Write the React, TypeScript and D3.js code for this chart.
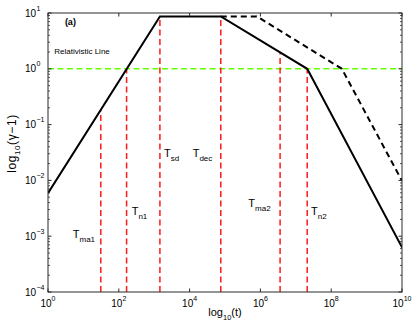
import * as d3 from 'd3'

const W = 415
const H = 330
const margin = { top: 13, right: 13, bottom: 38, left: 48 }
const FONT = 'Liberation Sans, Arial, Helvetica, sans-serif'

// solid curve (t, gamma-1)
const solidT = [1, 1450, 7.6e4, 2.1e7, 1e10]
const solidG = [0.0059, 8.7, 8.7, 1, 6.3e-4]

// dashed curve
const dashT = [7.6e4, 7.9e5, 2.0e8, 1e10]
const dashG = [8.7, 8.7, 1, 0.0098]

// vertical time markers
const markNames = ['ma1', 'n1', 'sd', 'dec', 'ma2', 'n2']
const markT = [31, 166, 1450, 7.6e4, 3.6e6, 2.1e7]
const labelT = [5, 231, 1890, 1.22e4, 4.55e5, 2.69e7]
const labelG = [9.3e-4, 2.4e-3, 0.0268, 0.0268, 3.3e-3, 2.4e-3]

const relLevel = 1
const xTickExp = [0, 2, 4, 6, 8, 10]
const yTickExp = [-4, -3, -2, -1, 0, 1]

function solidAt(t: number) {
  const lt = Math.log10(t)
  for (let i = 0; i < solidT.length - 1; i++) {
    const a = Math.log10(solidT[i])
    const b = Math.log10(solidT[i + 1])
    if (lt >= a && lt <= b) {
      const f = (lt - a) / (b - a)
      return 10 ** (Math.log10(solidG[i]) * (1 - f) + Math.log10(solidG[i + 1]) * f)
    }
  }
  return solidG[solidG.length - 1]
}

const expText = (e: number) => (e < 0 ? '\u2212' + Math.abs(e) : String(e))

export default function App() {
  const x = d3.scaleLog().domain([1, 1e10]).range([margin.left, W - margin.right])
  const y = d3.scaleLog().domain([1e-4, 10]).range([H - margin.bottom, margin.top])
  const [xa, xb] = x.range()
  const [yb, ya] = y.range()

  const line = d3.line<[number, number]>()
    .x(d => x(d[0]))
    .y(d => y(d[1]))

  const solidPts = solidT.map((t, i) => [t, solidG[i]] as [number, number])
  const dashPts = dashT.map((t, i) => [t, dashG[i]] as [number, number])

  const minorY: number[] = []
  for (let e = -4; e < 1; e++) {
    for (let k = 2; k <= 9; k++) minorY.push(k * 10 ** e)
  }

  const tickMajor = 3.5
  const tickMinor = 2
  const axisColor = '#2b2b2b'

  return (
    <svg width={W} height={H} style={{ position: 'absolute', left: 0, top: 0, background: '#fff' }}
      fontFamily={FONT}>
      <defs>
        <clipPath id="plot">
          <rect x={xa} y={ya} width={xb - xa} height={yb - ya} />
        </clipPath>
      </defs>
      <rect x={0} y={0} width={W} height={H} fill="#fff" />

      <g clipPath="url(#plot)">
        {/* relativistic line */}
        <line x1={xa} x2={xb} y1={y(relLevel)} y2={y(relLevel)}
          stroke="#66ff00" strokeWidth={1.6} strokeDasharray="6,3.5" />

        {/* time markers */}
        {markT.map((t, i) => (
          <line key={i} x1={x(t)} x2={x(t)} y1={yb} y2={y(solidAt(t))}
            stroke="#ff1a1a" strokeWidth={1.5} strokeDasharray="6,3.5" />
        ))}

        <path d={line(dashPts) || ''} fill="none" stroke="#000" strokeWidth={2}
          strokeDasharray="6,4" />
        <path d={line(solidPts) || ''} fill="none" stroke="#000" strokeWidth={2}
          strokeLinejoin="miter" />
      </g>

      {/* frame */}
      <rect x={xa} y={ya} width={xb - xa} height={yb - ya} fill="none" stroke={axisColor} strokeWidth={1} />

      {/* x ticks */}
      {xTickExp.map(e => {
        const px = x(10 ** e)
        return (
          <g key={e}>
            <line x1={px} x2={px} y1={yb} y2={yb - tickMajor} stroke={axisColor} />
            <line x1={px} x2={px} y1={ya} y2={ya + tickMajor} stroke={axisColor} />
            <text x={px} y={yb + 15} textAnchor="middle" fontSize={10} fill="#000">
              10<tspan dy={-6} fontSize={7}>{expText(e)}</tspan>
            </text>
          </g>
        )
      })}

      {/* y ticks */}
      {yTickExp.map(e => {
        const py = y(10 ** e)
        return (
          <g key={e}>
            <line x1={xa} x2={xa + tickMajor} y1={py} y2={py} stroke={axisColor} />
            <line x1={xb} x2={xb - tickMajor} y1={py} y2={py} stroke={axisColor} />
            <text x={36} y={py + 3.5} textAnchor="end" fontSize={10} fill="#000">10</text>
            <text x={36.5} y={py - 2.5} textAnchor="start" fontSize={7} fill="#000">{expText(e)}</text>
          </g>
        )
      })}
      {minorY.map((v, i) => (
        <g key={'m' + i}>
          <line x1={xa} x2={xa + tickMinor} y1={y(v)} y2={y(v)} stroke={axisColor} strokeWidth={0.8} />
          <line x1={xb} x2={xb - tickMinor} y1={y(v)} y2={y(v)} stroke={axisColor} strokeWidth={0.8} />
        </g>
      ))}

      {/* annotations */}
      <text x={x(3)} y={y(6.1)} fontSize={9} fontWeight="bold" fill="#000">(a)</text>
      <text x={x(1.5)} y={y(1.84)} fontSize={8} fill="#000">Relativistic Line</text>
      {markNames.map((n, i) => (
        <text key={n} x={x(labelT[i])} y={y(labelG[i])} fontSize={11} fill="#000">
          T<tspan dy={4} fontSize={8}>{n}</tspan>
        </text>
      ))}

      {/* axis labels */}
      <text x={(xa + xb) / 2} y={316} textAnchor="middle" fontSize={11} fill="#000">
        log<tspan dy={3.5} fontSize={7.5}>10</tspan><tspan dy={-3.5}>(t)</tspan>
      </text>
      <text transform={`translate(16,${(ya + yb) / 2 - 9}) rotate(-90)`} textAnchor="middle"
        fontSize={12} letterSpacing={0.6} fill="#000">
        log<tspan dy={3.5} fontSize={8}>10</tspan><tspan dy={-3.5}>({'\u03b3'}{'\u2212'}1)</tspan>
      </text>
    </svg>
  )
}
